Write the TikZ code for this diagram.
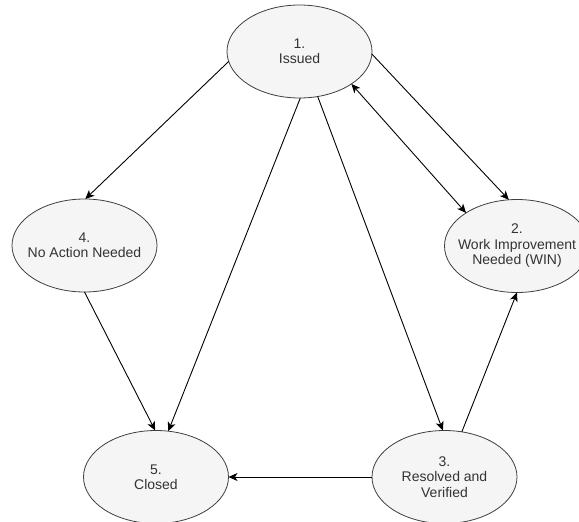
\documentclass[tikz,border=0pt]{standalone}
\usepackage{fontspec}
\setmainfont{Liberation Sans}
\usetikzlibrary{shapes.geometric,arrows.meta}
\begin{document}
\begin{tikzpicture}[x=1pt,y=-1pt,
  st/.style={ellipse,draw=black!75,fill=black!4,line width=0.8pt,minimum width=145pt,minimum height=93pt,inner sep=0pt,outer sep=0pt},
  lbl/.style={align=center,text=black!80,font=\fontsize{14}{15.5}\selectfont,inner sep=0pt},
  tip/.style={Stealth[length=9pt,width=8pt,inset=2.5pt]},
  conn/.style={line width=0.9pt,-{Stealth[length=9pt,width=8pt,inset=2.5pt]}},
  conntwo/.style={line width=0.9pt,{Stealth[length=9pt,width=8pt,inset=2.5pt]}-{Stealth[length=9pt,width=8pt,inset=2.5pt]}}
]
\useasboundingbox[fill=white] (0,0) rectangle (579,522);
\node[st] (n1) at (299.5,51.5) {};
\node[st] (n2) at (517,246) {};
\node[st] (n3) at (444.5,477) {};
\node[st] (n4) at (84.5,245.5) {};
\node[st] (n5) at (156,477) {};
\node[lbl] (t1) at (n1) {1.\\Issued};
\node[lbl] (t2) at (n2) {2.\\Work Improvement\\Needed (WIN)};
\node[lbl] (t3) at (n3) {3.\\Resolved and\\Verified};
\node[lbl] (t4) at (n4) {4.\\No Action Needed};
\node[lbl] (t5) at (n5) {5.\\Closed};
\draw[conn] (n1.188) -- (n4.89);
\draw[conn] (n1.271) -- (n5.75);
\draw[conn] (n1.292.6) -- (n3.92);
\draw[conn] (n1.-2) -- (n2.100);
\draw[conntwo] (n1.328) -- (n2.147);
\draw[conn] (n4.270) -- (n5.91);
\draw[conn] (n3.69.3) -- (n2.270);
\draw[conn] (n3.180) -- (n5.0);
\end{tikzpicture}
\end{document}
